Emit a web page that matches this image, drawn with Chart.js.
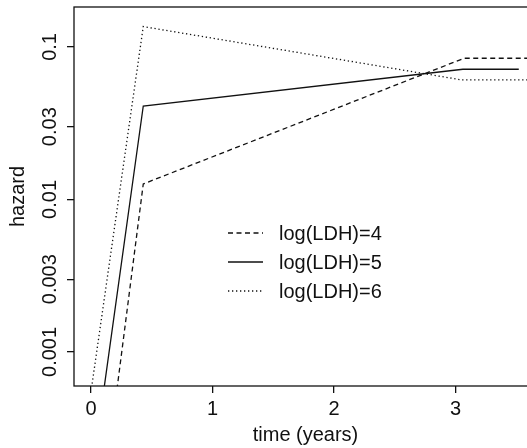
<!DOCTYPE html>
<html lang="en">
<head>
    <meta charset="UTF-8">
    <title>Hazard by log(LDH)</title>
    <script src="https://cdn.jsdelivr.net/npm/chart.js@4.4.0/dist/chart.umd.min.js"></script>
    <style>
        body { margin: 0; overflow: hidden; background: #fff; }
    </style>
</head>
<body>
<canvas id="hazardChart" width="537" height="448"></canvas>
<script>
    // values (hazard on a log scale)
    var ldh4Time = [0, 0.43, 3.07, 3.8];
    var ldh4Hazard = [0.0000267, 0.01264, 0.0843, 0.0843];
    var ldh5Time = [0, 0.43, 3.06, 3.52];
    var ldh5Hazard = [0.00014, 0.041, 0.0714, 0.0714];
    var ldh6Time = [0, 0.43, 3.05, 3.8];
    var ldh6Hazard = [0.00055, 0.136, 0.0608, 0.0608];

    var seriesNames = ['log(LDH)=4', 'log(LDH)=5', 'log(LDH)=6'];
    var xTicks = [0, 1, 2, 3];
    var yTicks = [0.001, 0.003, 0.01, 0.03, 0.1];
    var yTickLabels = ['0.001', '0.003', '0.01', '0.03', '0.1'];

    var dashes = [[5, 3.5], [], [1.3, 2.7]];
    var FONT = '20px "Liberation Sans", Arial, sans-serif';

    function toPoints(xs, ys) {
        return xs.map(function (x, i) { return { x: x, y: ys[i] }; });
    }

    var datasets = [
        toPoints(ldh4Time, ldh4Hazard),
        toPoints(ldh5Time, ldh5Hazard),
        toPoints(ldh6Time, ldh6Hazard)
    ].map(function (pts, i) {
        return {
            label: seriesNames[i],
            data: pts,
            borderColor: '#111',
            borderWidth: 1.3,
            borderDash: dashes[i],
            pointRadius: 0,
            tension: 0,
            clip: 0
        };
    });

    // box, tick labels, axis titles and legend drawn on top
    var decorations = {
        id: 'decorations',
        afterDraw: function (chart) {
            var ctx = chart.ctx;
            var a = chart.chartArea;
            var xs = chart.scales.x, ys = chart.scales.y;
            ctx.save();
            ctx.strokeStyle = '#111';
            ctx.lineWidth = 1.3;
            ctx.strokeRect(a.left, a.top, a.right - a.left, a.bottom - a.top);

            ctx.fillStyle = '#111';
            ctx.font = FONT;
            ctx.textAlign = 'center';
            ctx.textBaseline = 'middle';
            xTicks.forEach(function (v) {
                ctx.fillText(String(v), xs.getPixelForValue(v), 409);
            });
            ctx.fillText('time (years)', (a.left + a.right) / 2, 435);

            yTicks.forEach(function (v, i) {
                ctx.save();
                ctx.translate(50, ys.getPixelForValue(v));
                ctx.rotate(-Math.PI / 2);
                ctx.fillText(yTickLabels[i], 0, 0);
                ctx.restore();
            });
            ctx.save();
            ctx.translate(18, (a.top + a.bottom) / 2);
            ctx.rotate(-Math.PI / 2);
            ctx.fillText('hazard', 0, 0);
            ctx.restore();

            // legend
            var rows = [233, 262, 291];
            ctx.textAlign = 'left';
            seriesNames.forEach(function (name, i) {
                ctx.beginPath();
                ctx.setLineDash(dashes[i]);
                ctx.moveTo(228, rows[i]);
                ctx.lineTo(263, rows[i]);
                ctx.stroke();
                ctx.setLineDash([]);
                ctx.fillText(name, 279, rows[i] + 1);
            });
            ctx.restore();
        }
    };

    var ctx = document.getElementById('hazardChart').getContext('2d');
    window.hazardChart = new Chart(ctx, {
        type: 'line',
        data: { datasets: datasets },
        options: {
            responsive: false,
            animation: false,
            layout: { padding: { top: 7, right: 0, left: 0, bottom: 0 } },
            plugins: { legend: { display: false }, tooltip: { enabled: false } },
            scales: {
                x: {
                    type: 'linear',
                    min: -0.14,
                    max: 3.67,
                    afterBuildTicks: function (s) { s.ticks = xTicks.map(function (v) { return { value: v }; }); },
                    afterFit: function (s) { s.height = 62; },
                    ticks: { display: false },
                    border: { display: false },
                    grid: { drawOnChartArea: false, drawTicks: true, tickLength: 7, color: '#111', lineWidth: 1.3 }
                },
                y: {
                    type: 'logarithmic',
                    min: 0.000598,
                    max: 0.1828,
                    afterBuildTicks: function (s) { s.ticks = yTicks.map(function (v) { return { value: v }; }); },
                    afterFit: function (s) { s.width = 74; },
                    ticks: { display: false },
                    border: { display: false },
                    grid: { drawOnChartArea: false, drawTicks: true, tickLength: 7, color: '#111', lineWidth: 1.3 }
                }
            }
        },
        plugins: [decorations]
    });
</script>
</body>
</html>
